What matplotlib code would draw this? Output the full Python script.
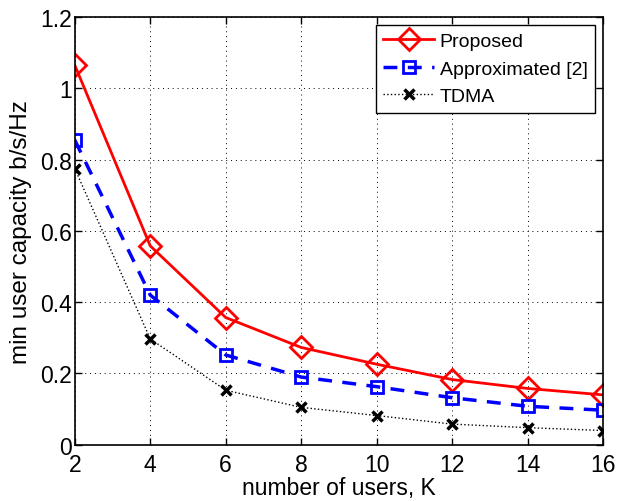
import matplotlib
matplotlib.use('Agg')
import matplotlib.pyplot as plt

users = [2, 4, 6, 8, 10, 12, 14, 16]
proposed = [1.065, 0.558, 0.357, 0.273, 0.226, 0.183, 0.158, 0.140]
approximated = [0.855, 0.420, 0.252, 0.190, 0.163, 0.132, 0.108, 0.097]
tdma = [0.775, 0.297, 0.153, 0.105, 0.082, 0.058, 0.048, 0.040]

plt.rcParams['font.family'] = ['Liberation Sans', 'DejaVu Sans']

fig = plt.figure(figsize=(6.18, 5.02), dpi=100)
ax = fig.add_axes([0.121, 0.112, 0.855, 0.852])

ax.plot(users, proposed, '-', color='red', lw=2, marker='D', markersize=11,
        markerfacecolor='none', markeredgecolor='red', markeredgewidth=2, label='Proposed')
ax.plot(users, approximated, '--', color='blue', lw=2.5, marker='s', markersize=8,
        markerfacecolor='none', markeredgecolor='blue', markeredgewidth=2,
        dashes=(4, 3), label='Approximated [2]')
ax.plot(users, tdma, ':', color='black', lw=1, marker='x', markersize=7,
        markeredgewidth=2.5, label='TDMA')

ax.set_xlim(2, 16)
ax.set_ylim(0, 1.2)
ax.set_xticks(users)
ax.set_yticks([0, 0.2, 0.4, 0.6, 0.8, 1, 1.2])
ax.set_yticklabels(['0', '0.2', '0.4', '0.6', '0.8', '1', '1.2'])
ax.tick_params(labelsize=16.5, direction='in', length=5, width=1, top=True, right=True)
ax.tick_params(axis='y', pad=2)
ax.tick_params(axis='x', pad=6)
ax.grid(True, color='black', linestyle=(0, (1, 4)), linewidth=0.7)
for s in ax.spines.values():
    s.set_linewidth(1.2)

ax.set_xlabel('number of users, K', fontsize=16.5, labelpad=0)
ax.set_ylabel('min user capacity b/s/Hz', fontsize=17.5, labelpad=6)

leg = ax.legend(loc='upper right', fontsize=14, fancybox=False, framealpha=1,
                edgecolor='black', borderpad=0.4, handlelength=2.6,
                handletextpad=0.3, labelspacing=0.5, borderaxespad=0.4)
leg.get_frame().set_linewidth(1)

fig.savefig('out.png', dpi=100)
